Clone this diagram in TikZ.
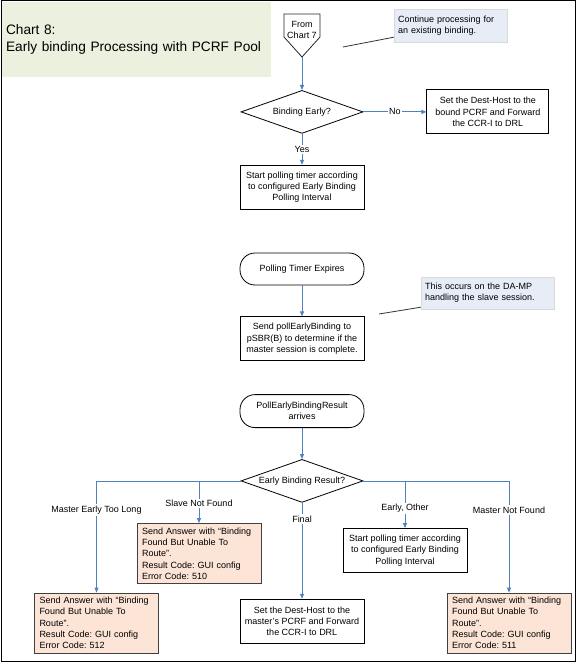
\documentclass[tikz,border=0pt]{standalone}
\usepackage{fontspec}
\setmainfont{Liberation Sans}
\frenchspacing
\usepackage{xcolor}
\usetikzlibrary{shapes.geometric, arrows.meta, positioning}
\definecolor{linkblue}{HTML}{4F81BD}
\definecolor{titlegreen}{HTML}{EBF1DE}
\definecolor{notefill}{HTML}{E6EDF7}
\definecolor{errfill}{HTML}{FCE4D6}
\tikzstyle{chartitle} = [rectangle, fill=titlegreen, text width=261pt,
                         inner xsep=4pt, minimum height=75pt, align=left,
                         font=\fontsize{13.7}{17}\selectfont]
\tikzstyle{procbox}  = [rectangle, draw=black, line width=0.8pt, fill=white,
                         align=center, minimum width=124pt, minimum height=44pt,
                         inner sep=2pt]
\tikzstyle{errbox}   = [rectangle, draw=black!75, line width=0.8pt, fill=errfill,
                         text width=114pt, inner xsep=5pt, align=left,
                         minimum height=60pt]
\tikzstyle{decision} = [diamond, draw=black, line width=0.8pt, fill=white,
                         aspect=2.8, inner sep=0pt, minimum width=122pt,
                         minimum height=43pt]
\tikzstyle{terminal} = [rectangle, rounded corners=15pt, draw=black,
                         line width=0.8pt, fill=white, align=center,
                         minimum width=124pt, minimum height=33pt]
\tikzstyle{note}     = [rectangle, draw=black!15, fill=notefill, align=left,
                         inner xsep=4pt]
\tikzstyle{offpage}  = [draw=black!85, line width=0.8pt]
\tikzstyle{flow}     = [-{Triangle[length=5pt,width=4pt]}, draw=linkblue,
                         line width=0.8pt]
\tikzstyle{branch}   = [fill=white, inner sep=1.5pt]
\tikzstyle{callout}  = [draw=black!80, line width=0.8pt]

\begin{document}
\begin{tikzpicture}[x=1pt, y=-1pt, font=\fontsize{9}{11.3}\selectfont]
  \useasboundingbox (0,0) rectangle (576,663);

  \node[chartitle] (title) at (136.5,39.5) {Chart 8:\\Early binding Processing with PCRF Pool};
  \draw[line width=1pt] (1,1) rectangle (575,661);

  % entry from chart 7
  \node[align=center] (from) at (302,30) {From\\Chart 7};
  \draw[offpage] (284,14) -- (320,14) -- (320,37) -- (302,57) -- (284,37) -- cycle;
  \coordinate (fromtip) at (302,57);

  \node[decision, below=33pt of fromtip] (early) {Binding Early?};
  \node[procbox, minimum width=122pt, right=63pt of early] (bound) {Set the Dest-Host to the\\bound PCRF and Forward\\the CCR-I to DRL};
  \node[procbox, below=31pt of early] (timer) {Start polling timer according\\to configured Early Binding\\Polling Interval};
  \node[note, text width=105pt, minimum height=33pt] (contnote) at (450.5,25.5) {Continue processing for\\an existing binding.};
  \coordinate (contpin) at (343,47);

  % polling timer
  \node[terminal, minimum height=32pt, below=43pt of timer] (expire) {Polling Timer Expires};
  \node[procbox, below=31pt of expire] (poll) {Send pollEarlyBinding to\\pSBR(B) to determine if the\\master session is complete.};
  \node[note, text width=125pt, minimum height=32pt] (slavenote) at (487.5,293) {This occurs on the DA-MP\\handling the slave session.};
  \coordinate (slavepin) at (379,314);

  % result handling
  \node[terminal, below=33pt of poll] (result) {PollEarlyBindingResult\\arrives};
  \node[decision, below=31pt of result] (outcome) {Early Binding Result?};
  \node[procbox, below=96pt of outcome] (final) {Set the Dest-Host to the\\master's PCRF and Forward\\the CCR-I to DRL};
  \node[errbox] (err510) at (199,553.5) {Send Answer with “Binding\\Found But Unable To\\Route”.\\Result Code: GUI config\\Error Code: 510};
  \node[procbox] (retimer) at (405,550.5) {Start polling timer according\\to configured Early Binding\\Polling Interval};
  \node[errbox] (err512) at (96.5,623) {Send Answer with “Binding\\Found But Unable To\\Route”.\\Result Code: GUI config\\Error Code: 512};
  \node[errbox] (err511) at (509,623) {Send Answer with “Binding\\Found But Unable To\\Route”.\\Result Code: GUI config\\Error Code: 511};

  \draw[flow] (fromtip) -- (early);
  \draw[flow] (early) -- node[branch]{No} (bound);
  \draw[flow] (early) -- node[branch]{Yes} (timer);
  \draw[callout] (contpin) -- ([yshift=5pt]contnote.south west);
  \draw[flow] (expire) -- (poll);
  \draw[callout] (slavepin) -- ([yshift=2pt]slavenote.south west);
  \draw[flow] (result) -- (outcome);
  \draw[flow] (outcome.west) -| node[branch, pos=0.63]{Master Early Too Long} (err512);
  \draw[flow] (outcome.west) -| node[branch, pos=0.77]{Slave Not Found} (err510);
  \draw[flow] (outcome) -- node[branch, pos=0.17]{Final} (final);
  \draw[flow] (outcome.east) -| node[branch, pos=0.79]{Early, Other} (retimer);
  \draw[flow] (outcome.east) -| node[branch, pos=0.63]{Master Not Found} (err511);

\end{tikzpicture}
\end{document}
